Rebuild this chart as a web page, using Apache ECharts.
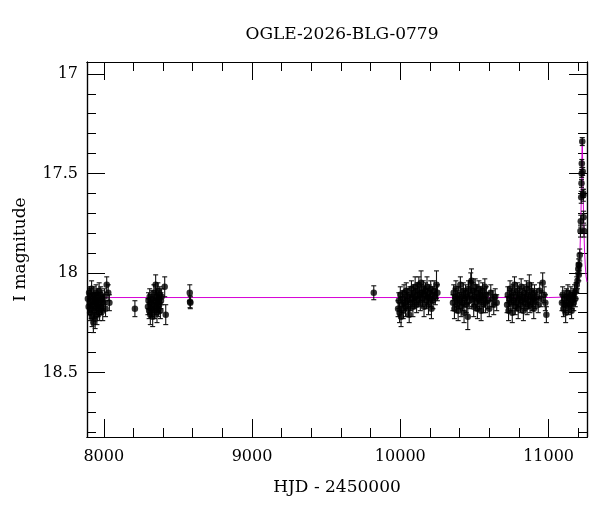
<!DOCTYPE html>
<html>
<head>
<meta charset="utf-8">
<script src="https://cdn.jsdelivr.net/npm/echarts@6/dist/echarts.min.js"></script>
<style>
  html, body { margin: 0; padding: 0; background: #fff; }
  #lc { width: 600px; height: 512px; }
</style>
</head>
<body>
<div id="lc"></div>
<script>
// photometry (HJD - 2450000, I mag, error)
var hjd = [
  7893, 7898, 7901, 7905, 7908, 7912, 7915, 7918, 7921, 7924, 7927, 7930, 7933, 7936, 7939, 7942, 7945, 7948, 7951, 7954,
  7957, 7960, 7963, 7966, 7969, 7972, 7976, 7980, 7984, 7988, 7993, 7998, 8005, 8012, 8020, 8030, 8038,
  8210,
  8298, 8302, 8306, 8310, 8314, 8318, 8322, 8326, 8330, 8334, 8338, 8342, 8346, 8350, 8353, 8356, 8359, 8362, 8365, 8368,
  8371, 8374, 8378, 8382, 8386, 8390, 8411, 8418,
  8580, 8582, 8584,
  9821,
  9985, 9990, 9995, 10000, 10005, 10010, 10015, 10020, 10025, 10030, 10035, 10040, 10045, 10050, 10055, 10060, 10065, 10070,
  10075, 10080, 10085, 10090, 10095, 10100, 10105, 10110, 10115, 10120, 10125, 10130, 10135, 10140, 10145, 10150, 10155,
  10160, 10165, 10170, 10175, 10180, 10185, 10190, 10195, 10200, 10205, 10210, 10215, 10220, 10228, 10236, 10244, 10250,
  10355, 10360, 10365, 10370, 10375, 10380, 10385, 10390, 10395, 10400, 10405, 10410, 10415, 10420, 10425, 10430, 10435,
  10440, 10445, 10450, 10455, 10460, 10465, 10470, 10475, 10480, 10485, 10490, 10495, 10500, 10505, 10510, 10515, 10520,
  10525, 10530, 10535, 10540, 10545, 10550, 10555, 10560, 10565, 10570, 10575, 10580, 10590, 10600, 10610, 10620, 10630,
  10640, 10650,
  10720, 10725, 10730, 10735, 10740, 10745, 10750, 10755, 10760, 10765, 10770, 10775, 10780, 10785, 10790, 10795, 10800,
  10805, 10810, 10815, 10820, 10825, 10830, 10835, 10840, 10845, 10850, 10855, 10860, 10865, 10870, 10875, 10880, 10885,
  10890, 10895, 10900, 10905, 10910, 10920, 10930, 10940, 10950, 10960, 10970, 10978, 10985,
  11090, 11095, 11100, 11105, 11110, 11115, 11120, 11125, 11130, 11135, 11140, 11145, 11150, 11155, 11160, 11165, 11170,
  11175, 11180, 11185, 11190, 11195, 11200, 11203,
  11204, 11207, 11210, 11215, 11217, 11220, 11222, 11223, 11224, 11227, 11230, 11233, 11234, 11236, 11239
];
var mag = [
  18.13, 18.17, 18.10, 18.15, 18.20, 18.12, 18.18, 18.08, 18.22, 18.14, 18.16, 18.25, 18.11, 18.19, 18.13, 18.23, 18.15, 18.10, 18.17, 18.21,
  18.14, 18.12, 18.18, 18.16, 18.09, 18.20, 18.14, 18.11, 18.17, 18.13, 18.19, 18.15, 18.12, 18.18, 18.06, 18.10, 18.15,
  18.18,
  18.17, 18.14, 18.19, 18.12, 18.21, 18.15, 18.18, 18.13, 18.22, 18.16, 18.10, 18.19, 18.14, 18.06, 18.17, 18.12, 18.20, 18.15, 18.09, 18.18,
  18.13, 18.16, 18.11, 18.19, 18.14, 18.12, 18.07, 18.21,
  18.10, 18.145, 18.15,
  18.10,
  18.18, 18.14, 18.20, 18.11, 18.22, 18.16, 18.13, 18.19, 18.10, 18.15, 18.17, 18.09, 18.14, 18.12, 18.18, 18.21, 18.11, 18.15,
  18.08, 18.13, 18.17, 18.10, 18.14, 18.07, 18.12, 18.16, 18.09, 18.13, 18.06, 18.11, 18.15, 18.05, 18.10, 18.13, 18.08,
  18.17, 18.11, 18.09, 18.14, 18.07, 18.12, 18.16, 18.10, 18.13, 18.08, 18.18, 18.11, 18.14, 18.09, 18.12, 18.06, 18.10,
  18.15, 18.10, 18.18, 18.12, 18.08, 18.16, 18.13, 18.19, 18.11, 18.14, 18.06, 18.17, 18.12, 18.15, 18.09, 18.20, 18.13,
  18.10, 18.16, 18.12, 18.22, 18.08, 18.14, 18.11, 18.05, 18.04, 18.13, 18.09, 18.17, 18.12, 18.07, 18.15, 18.10, 18.18,
  18.13, 18.08, 18.14, 18.11, 18.19, 18.12, 18.09, 18.16, 18.13, 18.07, 18.15, 18.11, 18.14, 18.18, 18.10, 18.13, 18.16,
  18.12, 18.15,
  18.16, 18.11, 18.19, 18.13, 18.08, 18.15, 18.12, 18.20, 18.10, 18.14, 18.06, 18.17, 18.12, 18.15, 18.09, 18.18, 18.13,
  18.11, 18.16, 18.07, 18.14, 18.12, 18.19, 18.10, 18.15, 18.13, 18.08, 18.17, 18.11, 18.14, 18.06, 18.16, 18.12, 18.09,
  18.15, 18.13, 18.18, 18.10, 18.14, 18.12, 18.16, 18.09, 18.13, 18.05, 18.11, 18.15, 18.21,
  18.15, 18.11, 18.18, 18.13, 18.16, 18.20, 18.12, 18.15, 18.10, 18.17, 18.13, 18.16, 18.11, 18.19, 18.14, 18.12, 18.15,
  18.10, 18.13, 18.09, 18.06, 18.04, 17.98, 17.96,
  18.01, 17.96, 17.91, 17.79, 17.74, 17.62, 17.55, 17.50, 17.45, 17.34, 17.49, 17.60, 17.61, 17.72, 17.79
];
var magErr = [
  0.04, 0.04, 0.03, 0.05, 0.04, 0.04, 0.05, 0.04, 0.05, 0.04, 0.04, 0.05, 0.04, 0.04, 0.03, 0.05, 0.04, 0.04, 0.04, 0.05,
  0.04, 0.04, 0.04, 0.05, 0.04, 0.04, 0.04, 0.04, 0.04, 0.04, 0.05, 0.04, 0.04, 0.04, 0.04, 0.04, 0.04,
  0.04,
  0.04, 0.04, 0.04, 0.04, 0.05, 0.04, 0.04, 0.04, 0.05, 0.04, 0.04, 0.04, 0.04, 0.05, 0.04, 0.04, 0.05, 0.04, 0.04, 0.04,
  0.04, 0.04, 0.04, 0.04, 0.04, 0.04, 0.05, 0.05,
  0.04, 0.03, 0.03,
  0.035,
  0.04, 0.04, 0.05, 0.04, 0.05, 0.04, 0.04, 0.04, 0.04, 0.04, 0.05, 0.04, 0.04, 0.04, 0.04, 0.04, 0.04, 0.04,
  0.04, 0.04, 0.05, 0.04, 0.04, 0.05, 0.04, 0.04, 0.04, 0.04, 0.04, 0.04, 0.04, 0.06, 0.04, 0.04, 0.04,
  0.05, 0.04, 0.04, 0.04, 0.05, 0.04, 0.05, 0.04, 0.04, 0.04, 0.05, 0.04, 0.04, 0.05, 0.04, 0.07, 0.04,
  0.04, 0.04, 0.05, 0.04, 0.04, 0.04, 0.04, 0.05, 0.04, 0.04, 0.04, 0.05, 0.04, 0.04, 0.04, 0.05, 0.04,
  0.04, 0.04, 0.04, 0.065, 0.04, 0.04, 0.04, 0.05, 0.06, 0.04, 0.04, 0.05, 0.04, 0.04, 0.04, 0.04, 0.05,
  0.04, 0.04, 0.04, 0.04, 0.05, 0.04, 0.04, 0.04, 0.04, 0.04, 0.05, 0.04, 0.04, 0.04, 0.04, 0.04, 0.05,
  0.04, 0.04,
  0.04, 0.04, 0.05, 0.04, 0.04, 0.04, 0.04, 0.05, 0.04, 0.04, 0.04, 0.04, 0.04, 0.04, 0.04, 0.05, 0.04,
  0.04, 0.04, 0.04, 0.04, 0.04, 0.05, 0.04, 0.04, 0.04, 0.04, 0.04, 0.04, 0.04, 0.05, 0.04, 0.04, 0.04,
  0.04, 0.04, 0.05, 0.04, 0.04, 0.04, 0.04, 0.04, 0.04, 0.05, 0.04, 0.04, 0.04,
  0.04, 0.04, 0.04, 0.04, 0.04, 0.05, 0.04, 0.04, 0.04, 0.04, 0.04, 0.04, 0.04, 0.04, 0.04, 0.04, 0.04,
  0.04, 0.04, 0.04, 0.04, 0.04, 0.03, 0.03,
  0.03, 0.03, 0.03, 0.03, 0.03, 0.03, 0.02, 0.02, 0.02, 0.02, 0.02, 0.02, 0.03, 0.03, 0.03
];

// model curve (magenta)
var modelHjd = [7887, 10000, 11000, 11100, 11150, 11170, 11185, 11195, 11201, 11207, 11212, 11217, 11220, 11222, 11224, 11225,
  11226, 11227, 11228, 11229, 11230, 11232, 11234, 11237, 11242, 11247, 11253, 11259];
var modelMag = [18.124, 18.124, 18.124, 18.122, 18.115, 18.105, 18.09, 18.07, 18.03, 17.96, 17.88, 17.75, 17.64, 17.55, 17.46, 17.40,
  17.35, 17.33, 17.35, 17.40, 17.46, 17.55, 17.64, 17.75, 17.88, 17.96, 18.02, 18.045];

var xMajor = [8000, 9000, 10000, 11000];
var xMinor = [8000, 8200, 8400, 8600, 8800, 9000, 9200, 9400, 9600, 9800, 10000, 10200, 10400, 10600, 10800, 11000, 11200];
var yMajor = [17, 17.5, 18, 18.5];
var yMinor = [17, 17.1, 17.2, 17.3, 17.4, 17.5, 17.6, 17.7, 17.8, 17.9, 18, 18.1, 18.2, 18.3, 18.4, 18.5, 18.6, 18.7, 18.8];

var FONT = 'DejaVu Serif';
var X_MIN = 7887, X_MAX = 11259;
var Y_MIN = 16.94, Y_MAX = 18.825;

var points = hjd.map(function (t, i) { return [t, mag[i], magErr[i]]; });
var model = modelHjd.map(function (t, i) { return [t, modelMag[i]]; });

function xAxisDef(pos, ticks, len, withLabel) {
    return {
        type: 'value', position: pos, min: X_MIN, max: X_MAX,
        axisLine: { show: true, onZero: false, lineStyle: { color: '#000', width: 1.2 } },
        axisTick: { show: true, inside: true, length: len, customValues: ticks, lineStyle: { color: '#000', width: 1 } },
        axisLabel: withLabel ? {
            show: true, customValues: ticks, margin: 12,
            formatter: function (v) { return String(v); },
            fontFamily: FONT, fontSize: 16, color: '#000'
        } : { show: false },
        splitLine: { show: false },
        name: withLabel ? 'HJD - 2450000' : '',
        nameLocation: 'middle', nameGap: 42,
        nameTextStyle: { fontFamily: FONT, fontSize: 17, color: '#000' }
    };
}
function yAxisDef(pos, ticks, len, withLabel) {
    return {
        type: 'value', position: pos, inverse: true, min: Y_MIN, max: Y_MAX,
        axisLine: { show: true, onZero: false, lineStyle: { color: '#000', width: 1.2 } },
        axisTick: { show: true, inside: true, length: len, customValues: ticks, lineStyle: { color: '#000', width: 1 } },
        axisLabel: withLabel ? {
            show: true, customValues: ticks, margin: 9,
            formatter: function (v) { return String(v); },
            fontFamily: FONT, fontSize: 16, color: '#000'
        } : { show: false },
        splitLine: { show: false },
        name: withLabel ? 'I magnitude' : '',
        nameLocation: 'middle', nameGap: 58, nameRotate: 90,
        nameTextStyle: { fontFamily: FONT, fontSize: 17, color: '#000' }
    };
}

var chart = echarts.init(document.getElementById('lc'));
var option = {
    backgroundColor: '#fff',
    animation: false,
    title: {
        text: 'OGLE-2026-BLG-0779',
        left: 337, top: 21, textAlign: 'center',
        textStyle: { fontFamily: FONT, fontSize: 17, fontWeight: 'normal', color: '#000' }
    },
    grid: { left: 87, right: 13, top: 62, bottom: 75 },
    xAxis: [
        xAxisDef('bottom', xMajor, 18, true),
        xAxisDef('bottom', xMinor, 9, false),
        xAxisDef('top', xMajor, 18, false),
        xAxisDef('top', xMinor, 9, false)
    ],
    yAxis: [
        yAxisDef('left', yMajor, 18, true),
        yAxisDef('left', yMinor, 9, false),
        yAxisDef('right', yMajor, 18, false),
        yAxisDef('right', yMinor, 9, false)
    ],
    series: [
        {
            type: 'line',
            data: model,
            showSymbol: false,
            smooth: false,
            lineStyle: { color: '#d600d6', width: 1 },
            z: 2
        },
        {
            // error bars
            type: 'custom',
            data: points,
            clip: true,
            z: 3,
            renderItem: function (params, api) {
                var t = api.value(0), m = api.value(1), e = api.value(2);
                var top = api.coord([t, m - e]);
                var bot = api.coord([t, m + e]);
                var cap = 2.5;
                var st = { stroke: '#111', lineWidth: 1.1 };
                return {
                    type: 'group',
                    children: [
                        { type: 'line', shape: { x1: top[0], y1: top[1], x2: bot[0], y2: bot[1] }, style: st },
                        { type: 'line', shape: { x1: top[0] - cap, y1: top[1], x2: top[0] + cap, y2: top[1] }, style: st },
                        { type: 'line', shape: { x1: bot[0] - cap, y1: bot[1], x2: bot[0] + cap, y2: bot[1] }, style: st }
                    ]
                };
            }
        },
        {
            type: 'scatter',
            data: points,
            symbol: 'circle',
            symbolSize: 6.5,
            itemStyle: { color: '#000' },
            z: 4
        }
    ]
};
chart.setOption(option);
</script>
</body>
</html>
